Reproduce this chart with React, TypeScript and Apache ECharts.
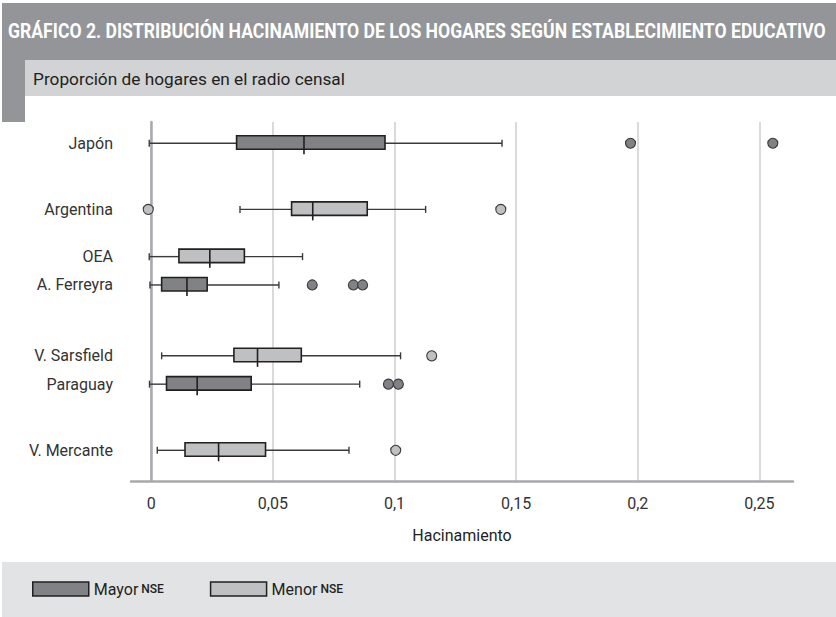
import React, { useEffect, useRef } from 'react';
import * as echarts from 'echarts';

// ---------- data ----------
const categories = ['Japón', 'Argentina', 'OEA', 'A. Ferreyra', 'V. Sarsfield', 'Paraguay', 'V. Mercante'];
const groupOf = ['Mayor NSE', 'Menor NSE', 'Menor NSE', 'Mayor NSE', 'Menor NSE', 'Mayor NSE', 'Menor NSE'];
const whiskerLow = [-0.0008, 0.0365, -0.0008, -0.0005, 0.0043, -0.0007, 0.0025];
const quartile1 = [0.0351, 0.0577, 0.0114, 0.0043, 0.034, 0.0063, 0.0139];
const medians = [0.0628, 0.0664, 0.0241, 0.0147, 0.0437, 0.0189, 0.0277];
const quartile3 = [0.0961, 0.0888, 0.0383, 0.023, 0.0617, 0.0411, 0.047];
const whiskerHigh = [0.1442, 0.1128, 0.0622, 0.0525, 0.1025, 0.0857, 0.0813];
const outliers = [
  [0.197, 0.2555],
  [-0.0012, 0.1437],
  [],
  [0.0662, 0.0831, 0.0869],
  [0.1153],
  [0.0975, 0.1016],
  [0.1005],
];
const xTickValues = [0, 0.05, 0.1, 0.15, 0.2, 0.25];
const seriesNames = ['Mayor NSE', 'Menor NSE'];
const titleText = 'GRÁFICO 2. DISTRIBUCIÓN HACINAMIENTO DE LOS HOGARES SEGÚN ESTABLECIMIENTO EDUCATIVO';
const subtitleText = 'Proporción de hogares en el radio censal';
const xAxisName = 'Hacinamiento';

// ---------- layout / style ----------
const SLOT_COUNT = 76;
const slotOf = [4, 18, 28, 34, 49, 55, 69];
const fills: Record<string, string> = { 'Mayor NSE': '#808285', 'Menor NSE': '#bfc0c2' };
const FONT = 'Roboto, "Noto Sans", sans-serif';

function fitScale(text: string, font: string, target: number) {
  const c = document.createElement('canvas').getContext('2d');
  if (!c) return 1;
  c.font = font;
  const w = c.measureText(text).width;
  return w > 0 ? target / w : 1;
}

export default function App() {
  const ref = useRef<HTMLDivElement>(null);
  useEffect(() => {
    if (!ref.current) return;
    const chart = echarts.init(ref.current, undefined, { renderer: 'svg' });

    const yData = Array.from({ length: SLOT_COUNT }, (_, i) => {
      const k = slotOf.indexOf(i);
      return k >= 0 ? categories[k] : '';
    });

    const boxSeries = seriesNames.map((name) => ({
      type: 'custom',
      name,
      itemStyle: { color: fills[name], borderColor: '#231f20', borderWidth: 1.5 },
      encode: { x: [0, 1, 2, 3, 4], y: 5 },
      data: categories
        .map((_, i) => i)
        .filter((i) => groupOf[i] === name)
        .map((i) => [whiskerLow[i], quartile1[i], medians[i], quartile3[i], whiskerHigh[i], slotOf[i]]),
      renderItem: (params: any, api: any) => {
        const cat = api.value(5);
        const pLow = api.coord([api.value(0), cat]);
        const pQ1 = api.coord([api.value(1), cat]);
        const pMed = api.coord([api.value(2), cat]);
        const pQ3 = api.coord([api.value(3), cat]);
        const pHigh = api.coord([api.value(4), cat]);
        const y = pLow[1];
        const ln = { stroke: '#3a3a3a', lineWidth: 1.4 };
        const dk = { stroke: '#231f20', lineWidth: 1.6 };
        return {
          type: 'group',
          children: [
            { type: 'line', shape: { x1: pLow[0], y1: y, x2: pQ1[0], y2: y }, style: ln },
            { type: 'line', shape: { x1: pQ3[0], y1: y, x2: pHigh[0], y2: y }, style: ln },
            { type: 'line', shape: { x1: pLow[0], y1: y - 3.5, x2: pLow[0], y2: y + 3.5 }, style: ln },
            { type: 'line', shape: { x1: pHigh[0], y1: y - 3.5, x2: pHigh[0], y2: y + 3.5 }, style: ln },
            {
              type: 'rect',
              shape: { x: pQ1[0], y: y - 7.5, width: pQ3[0] - pQ1[0], height: 13.5 },
              style: { fill: fills[name], stroke: '#231f20', lineWidth: 1.6 },
            },
            { type: 'line', shape: { x1: pMed[0], y1: y - 7.5, x2: pMed[0], y2: y + 11 }, style: dk },
          ],
        };
      },
      z: 3,
    }));

    const outlierSeries = seriesNames.map((name) => {
      const pts: number[][] = [];
      categories.forEach((_, i) => {
        if (groupOf[i] !== name) return;
        outliers[i].forEach((v) => pts.push([v, slotOf[i]]));
      });
      return {
        type: 'scatter',
        name,
        data: pts,
        symbol: 'circle',
        symbolSize: 10,
        itemStyle: { color: fills[name], borderColor: '#3a3a3a', borderWidth: 1.1, opacity: 1 },
        z: 4,
      };
    });

    const titleFont = `bold 20px ${FONT}`;
    const subFont = `17px ${FONT}`;

    chart.setOption({
      animation: false,
      backgroundColor: '#ffffff',
      textStyle: { fontFamily: FONT },
      grid: { left: 131, top: 122, right: 43, bottom: 136, containLabel: false },
      xAxis: {
        type: 'value',
        min: -0.0083,
        max: 0.2638,
        name: xAxisName,
        nameLocation: 'middle',
        nameGap: 46,
        nameTextStyle: { fontSize: 16, color: '#231f20', fontWeight: 'normal', fontFamily: FONT },
        axisLine: { show: true, onZero: false, lineStyle: { color: '#a7a9ac', width: 2.5 } },
        axisTick: { show: false, customValues: xTickValues },
        axisLabel: {
          customValues: xTickValues,
          fontSize: 16,
          color: '#333333',
          margin: 14,
          fontFamily: FONT,
          formatter: (v: number) => String(Math.round(v * 100) / 100).replace('.', ','),
        },
        splitLine: { show: true, lineStyle: { color: '#dadada', width: 2 } },
      },
      yAxis: {
        type: 'category',
        inverse: true,
        data: yData,
        axisLine: { show: true, lineStyle: { color: '#a7a9ac', width: 2.5 } },
        axisTick: { show: false },
        axisLabel: { interval: 0, fontSize: 16, color: '#333333', margin: 18, fontFamily: FONT },
        splitLine: { show: false },
      },
      legend: {
        left: 32,
        top: 581,
        padding: 0,
        itemWidth: 56,
        itemHeight: 14,
        itemGap: 46,
        icon: 'rect',
        selectedMode: false,
        data: seriesNames.map((n) => ({
          name: n,
          itemStyle: { color: fills[n], borderColor: '#231f20', borderWidth: 1.5 },
        })),
        formatter: (n: string) => {
          const [a, b] = n.split(' ');
          return `{a|${a}} {b|${b}}`;
        },
        textStyle: {
          rich: {
            a: { fontSize: 16, color: '#231f20', fontFamily: FONT },
            b: { fontSize: 12, color: '#231f20', fontWeight: 500, fontFamily: FONT },
          },
        },
      },
      graphic: [
        { type: 'rect', x: 2, y: 3, shape: { width: 834, height: 57 }, style: { fill: '#939598' }, z: -1 },
        { type: 'rect', x: 2, y: 60, shape: { width: 23, height: 62 }, style: { fill: '#939598' }, z: -1 },
        { type: 'rect', x: 25, y: 60, shape: { width: 811, height: 36 }, style: { fill: '#d1d3d4' }, z: -1 },
        { type: 'rect', x: 2, y: 562, shape: { width: 834, height: 55 }, style: { fill: '#e2e3e4' }, z: -1 },
        {
          type: 'text',
          x: 8,
          y: 32,
          scaleX: fitScale(titleText, titleFont, 818),
          style: {
            text: titleText,
            fill: '#ffffff',
            font: titleFont,
            textVerticalAlign: 'middle',
            verticalAlign: 'middle',
          },
        },
        {
          type: 'text',
          x: 33,
          y: 79,
          scaleX: fitScale(subtitleText, subFont, 312),
          style: {
            text: subtitleText,
            fill: '#231f20',
            font: subFont,
            textVerticalAlign: 'middle',
            verticalAlign: 'middle',
          },
        },
      ],
      series: [...boxSeries, ...outlierSeries],
    });

    return () => chart.dispose();
  }, []);

  return (
    <div
      ref={ref}
      style={{ position: 'absolute', left: 0, top: 0, width: 836, height: 617, background: '#fff' }}
    />
  );
}
